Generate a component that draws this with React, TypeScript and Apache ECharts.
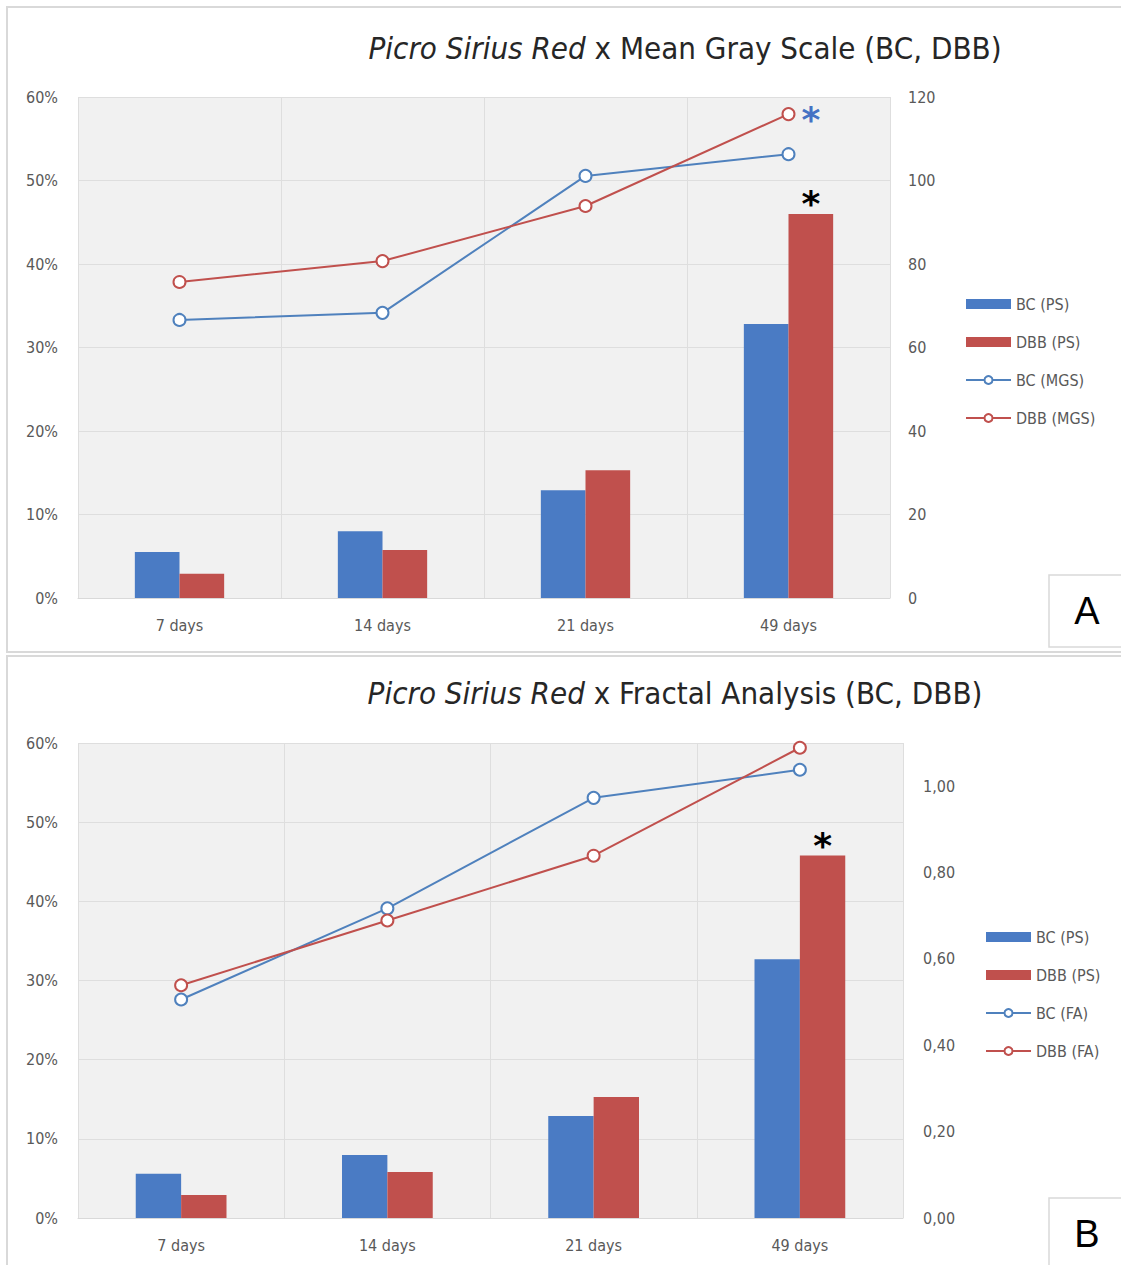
import React, { useEffect, useRef } from "react";
import * as echarts from "echarts";

const categories = ["7 days", "14 days", "21 days", "49 days"];
// Panel A
const bcPS_A = [5.5, 8.0, 12.9, 32.8];
const dbbPS_A = [2.9, 5.75, 15.3, 46.0];
const bcMGS = [66.6, 68.3, 101.1, 106.3];
const dbbMGS = [75.7, 80.7, 93.9, 115.9];
// Panel B
const bcPS_B = [5.6, 7.95, 12.9, 32.7];
const dbbPS_B = [2.9, 5.8, 15.3, 45.8];
const bcFA = [0.506, 0.717, 0.973, 1.038];
const dbbFA = [0.539, 0.689, 0.839, 1.089];

const titleA = ["Picro Sirius Red", " x Mean Gray Scale (BC, DBB)"];
const titleB = ["Picro Sirius Red", " x Fractal Analysis (BC, DBB)"];

const FONT = "'Liberation Sans Narrow', 'DejaVu Sans Condensed', 'Open Sans', sans-serif";
const GRAY = "#595959";
const BLUE_BAR = "#4a7bc4";
const RED_BAR = "#c0504d";
const BLUE_LINE = "#4f81bd";
const RED_LINE = "#c0504d";

export default function App() {
  const ref = useRef<HTMLDivElement>(null);
  useEffect(() => {
    document.body.style.margin = "0";
    if (!ref.current) return;
    const chart = echarts.init(ref.current, undefined, { renderer: "svg" });

    const axisLabel = { color: GRAY, fontSize: 16, fontFamily: FONT };
    const lineSeries = (name: string, data: any[], color: string, x: number, y: number) => ({
      name,
      type: "line",
      xAxisIndex: x,
      yAxisIndex: y,
      data,
      symbol: "circle",
      symbolSize: 12,
      z: 5,
      lineStyle: { color, width: 2 },
      itemStyle: { color: "#ffffff", borderColor: color, borderWidth: 2 },
    });
    const barSeries = (name: string, data: any[], color: string, x: number, y: number) => ({
      name,
      type: "bar",
      xAxisIndex: x,
      yAxisIndex: y,
      data,
      barWidth: "22%",
      barGap: "0%",
      itemStyle: { color },
    });
    const star = (color: string, position: string, extra: any) => ({
      show: true,
      position,
      formatter: "*",
      color,
      fontSize: 36,
      fontWeight: "bold",
      fontFamily: "'DejaVu Sans', sans-serif",
      ...extra,
    });

    const xAxisBase = (gridIndex: number) => ({
      type: "category",
      gridIndex,
      data: categories,
      axisTick: { show: false },
      axisLine: { show: true, lineStyle: { color: "#d9d9d9" } },
      axisLabel: { ...axisLabel, margin: 19 },
      splitLine: { show: true, lineStyle: { color: "#dedede" } },
    });

    const legendBase = (left: number, top: number, names: string[]) => ({
      orient: "vertical",
      left,
      top,
      padding: 0,
      itemWidth: 45,
      itemHeight: 10,
      itemGap: 22,
      textStyle: { color: GRAY, fontSize: 16, fontFamily: FONT, lineHeight: 16 },
      selectedMode: false,
      data: names.map((n, i) => (i < 2 ? { name: n, icon: "rect" } : { name: n })),
    });

    const titleText = (parts: string[], x: number, y: number) => ({
      type: "text",
      x,
      y,
      style: {
        text: `{i|${parts[0]}}{n|${parts[1]}}`,
        textAlign: "center",
        textVerticalAlign: "middle",
        rich: {
          i: { fontStyle: "italic", fontSize: 31, fontFamily: FONT, fill: "#262626" },
          n: { fontSize: 31, fontFamily: FONT, fill: "#262626" },
        },
      },
    });

    const option: any = {
      animation: false,
      backgroundColor: "#ffffff",
      grid: [
        { left: 78, right: 231, top: 97, bottom: 667, show: true, backgroundColor: "#f1f1f1", borderWidth: 0 },
        { left: 78, right: 218, top: 743, bottom: 47, show: true, backgroundColor: "#f1f1f1", borderWidth: 0 },
      ],
      xAxis: [xAxisBase(0), xAxisBase(1)],
      yAxis: [
        {
          type: "value", gridIndex: 0, min: 0, max: 60, interval: 10,
          axisLabel: { ...axisLabel, margin: 20, formatter: "{value}%" },
          splitLine: { lineStyle: { color: "#dedede" } },
          axisLine: { show: false }, axisTick: { show: false },
        },
        {
          type: "value", gridIndex: 0, min: 0, max: 120, interval: 20, position: "right",
          axisLabel: { ...axisLabel, margin: 18 },
          splitLine: { show: false }, axisLine: { show: false }, axisTick: { show: false },
        },
        {
          type: "value", gridIndex: 1, min: 0, max: 60, interval: 10,
          axisLabel: { ...axisLabel, margin: 20, formatter: "{value}%" },
          splitLine: { lineStyle: { color: "#dedede" } },
          axisLine: { show: false }, axisTick: { show: false },
        },
        {
          type: "value", gridIndex: 1, min: 0, max: 1.1, interval: 0.2, position: "right",
          axisLabel: {
            ...axisLabel, margin: 20,
            formatter: (v: number) => (v > 1.05 ? "" : v.toFixed(2).replace(".", ",")),
          },
          splitLine: { show: false }, axisLine: { show: false }, axisTick: { show: false },
        },
      ],
      legend: [
        legendBase(965, 296, ["BC (PS)", "DBB (PS)", "BC (MGS)", "DBB (MGS)"]),
        legendBase(985, 929, ["BC (PS)", "DBB (PS)", "BC (FA)", "DBB (FA)"]),
      ],
      series: [
        barSeries("BC (PS)", bcPS_A, BLUE_BAR, 0, 0),
        barSeries(
          "DBB (PS)",
          dbbPS_A.map((v, i) =>
            i === dbbPS_A.length - 1 ? { value: v, label: star("#000000", "top", { distance: -8 }) } : v
          ),
          RED_BAR, 0, 0
        ),
        lineSeries("BC (MGS)", bcMGS, BLUE_LINE, 0, 1),
        lineSeries(
          "DBB (MGS)",
          dbbMGS.map((v, i) =>
            i === dbbMGS.length - 1
              ? { value: v, label: star("#4472c4", "right", { distance: 6, offset: [0, 5] }) }
              : v
          ),
          RED_LINE, 0, 1
        ),
        barSeries("BC (PS)", bcPS_B, BLUE_BAR, 1, 2),
        barSeries(
          "DBB (PS)",
          dbbPS_B.map((v, i) =>
            i === dbbPS_B.length - 1 ? { value: v, label: star("#000000", "top", { distance: -8 }) } : v
          ),
          RED_BAR, 1, 2
        ),
        lineSeries("BC (FA)", bcFA, BLUE_LINE, 1, 3),
        lineSeries("DBB (FA)", dbbFA, RED_LINE, 1, 3),
      ],
      graphic: [
        { type: "rect", shape: { x: 7, y: 7, width: 1125, height: 645 }, style: { fill: "none", stroke: "#d9d9d9", lineWidth: 2 }, z: -10 },
        { type: "rect", shape: { x: 7, y: 656, width: 1125, height: 620 }, style: { fill: "none", stroke: "#d9d9d9", lineWidth: 2 }, z: -10 },
        titleText(titleA, 685, 48),
        titleText(titleB, 675, 693),
        { type: "rect", shape: { x: 1049, y: 575, width: 80, height: 72 }, style: { fill: "#ffffff", stroke: "#d9d9d9", lineWidth: 1.5 } },
        { type: "text", x: 1087, y: 611, style: { text: "A", fontSize: 38, fontFamily: "'Liberation Sans', Arial, sans-serif", fill: "#000", textAlign: "center", textVerticalAlign: "middle" } },
        { type: "rect", shape: { x: 1049, y: 1198, width: 80, height: 75 }, style: { fill: "#ffffff", stroke: "#d9d9d9", lineWidth: 1.5 } },
        { type: "text", x: 1087, y: 1234, style: { text: "B", fontSize: 38, fontFamily: "'Liberation Sans', Arial, sans-serif", fill: "#000", textAlign: "center", textVerticalAlign: "middle" } },
      ],
    };
    chart.setOption(option);
    return () => chart.dispose();
  }, []);
  return <div ref={ref} style={{ width: 1121, height: 1265 }} />;
}
